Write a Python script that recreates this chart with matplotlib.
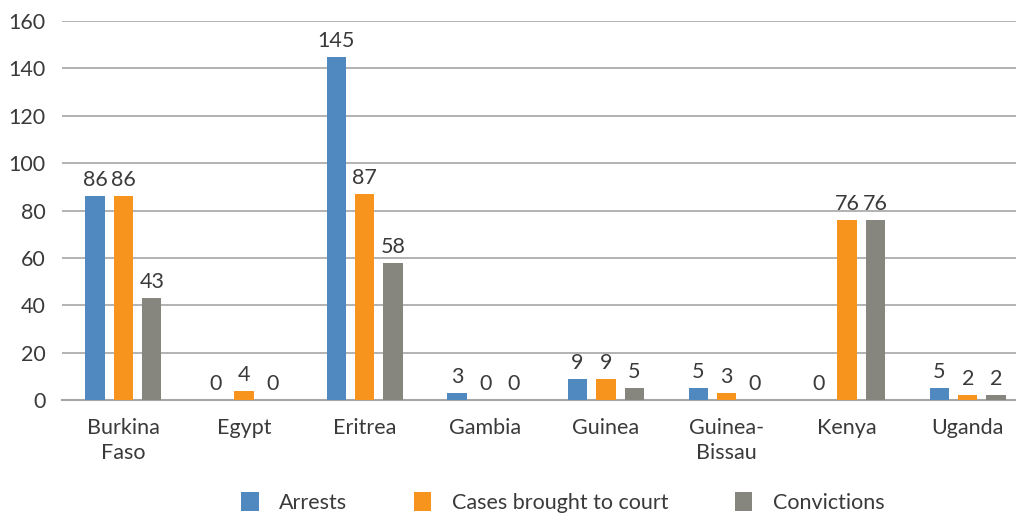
import numpy as np
import matplotlib.pyplot as plt
from matplotlib.patches import Patch

countries = ['Burkina\nFaso', 'Egypt', 'Eritrea', 'Gambia', 'Guinea', 'Guinea-\nBissau', 'Kenya', 'Uganda']
arrests = [86, 0, 145, 3, 9, 5, 0, 5]
cases = [86, 4, 87, 0, 9, 3, 76, 2]
convictions = [43, 0, 58, 0, 5, 0, 76, 2]
yticks = [0, 20, 40, 60, 80, 100, 120, 140, 160]

plt.rcParams['font.family'] = ['Lato', 'DejaVu Sans']

colors = ['#4f89c0', '#f7941d', '#87867e']
names = ['Arrests', 'Cases brought to court', 'Convictions']
series = [arrests, cases, convictions]
textcol = '#3a3a3a'

fig = plt.figure(figsize=(10.16, 5.15), dpi=100)
ax = fig.add_axes([0.061, 0.223, 0.939, 0.736])

x = np.arange(len(countries))
width = 0.16
step = 0.235
for i, vals in enumerate(series):
    pos = x + (i - 1) * step
    ax.bar(pos, vals, width=width, color=colors[i], zorder=3)
    for p, v in zip(pos, vals):
        ax.text(p, v + 2.5, str(v), ha='center', va='bottom', fontsize=15.5,
                color=textcol)

ax.set_ylim(0, 160)
ax.set_xlim(-0.51, 7.4)
ax.set_yticks(yticks)
ax.set_xticks(x)
ax.set_xticklabels(countries, fontsize=15.5, color=textcol, linespacing=1.3)
ax.tick_params(axis='y', labelsize=15.5, labelcolor=textcol, length=0, pad=12)
ax.tick_params(axis='x', length=0, pad=13)
ax.grid(axis='y', color='#a6a6a6', lw=1.2, zorder=0)
for s in ['top', 'right', 'left']:
    ax.spines[s].set_visible(False)
ax.spines['bottom'].set_color('#a6a6a6')
ax.spines['bottom'].set_linewidth(1.5)

handles = [Patch(facecolor=c, label=n) for c, n in zip(colors, names)]
leg = fig.legend(handles=handles, loc='center', bbox_to_anchor=(0.554, 0.025),
                 ncol=3, frameon=False, fontsize=15.5, handlelength=0.8,
                 handleheight=1.0, handletextpad=0.95, columnspacing=3.1)
for t in leg.get_texts():
    t.set_color(textcol)

fig.savefig('out.png', dpi=100)
